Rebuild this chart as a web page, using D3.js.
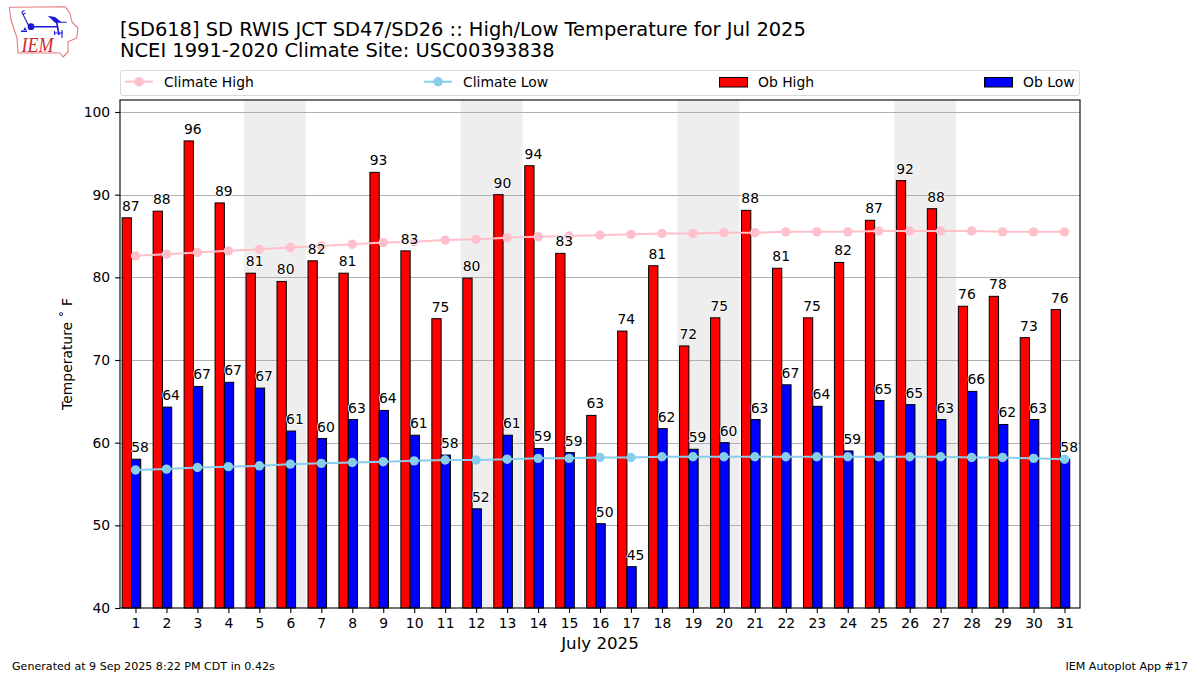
<!DOCTYPE html>
<html><head><meta charset="utf-8">
<script src="https://cdn.jsdelivr.net/npm/d3@7"></script>
<style>
html,body{margin:0;padding:0;background:#fff}
svg{display:block}
text{font-family:"DejaVu Sans",sans-serif;fill:#000}
</style></head><body>
<svg id="c" width="1200" height="675"></svg>
<script>
const days = d3.range(1, 32);
const obHigh = [87.2,88,96.5,89,80.5,79.5,82,80.5,92.7,83.2,75,79.9,90,93.5,82.9,63.3,73.5,81.4,71.7,75.1,88.1,81.1,75.1,81.8,86.9,91.7,88.3,76.5,77.7,72.7,76.1];
const obLow = [58,64.3,66.8,67.3,66.6,61.4,60.5,62.8,63.9,60.9,58.5,52,60.9,59.3,58.8,50.2,45,61.7,59.2,60,62.8,67,64.4,59,65.1,64.6,62.8,66.2,62.2,62.8,58];
const highLabels = [87,88,96,89,81,80,82,81,93,83,75,80,90,94,83,63,74,81,72,75,88,81,75,82,87,92,88,76,78,73,76];
const lowLabels = [58,64,67,67,67,61,60,63,64,61,58,52,61,59,59,50,45,62,59,60,63,67,64,59,65,65,63,66,62,63,58];
const climateHigh = [82.6,82.8,83,83.2,83.4,83.6,83.8,84,84.2,84.3,84.5,84.6,84.8,84.9,85,85.1,85.2,85.3,85.3,85.4,85.4,85.5,85.5,85.5,85.6,85.6,85.6,85.6,85.5,85.5,85.5];
const climateLow = [56.7,56.8,57,57.1,57.2,57.4,57.5,57.6,57.7,57.8,57.9,57.9,58,58.1,58.1,58.2,58.2,58.3,58.3,58.3,58.3,58.3,58.3,58.3,58.3,58.3,58.3,58.2,58.2,58.1,58];
const weekendStarts = [5,12,19,26];
const yTicks = [40,50,60,70,80,90,100];
const titleLines = ["[SD618] SD RWIS JCT SD47/SD26 :: High/Low Temperature for Jul 2025","NCEI 1991-2020 Climate Site: USC00393838"];
const legendLabels = ["Climate High","Climate Low","Ob High","Ob Low"];

const svg = d3.select("#c");
const L=120,R=1080,T=100,B=608;
const x = d3.scaleLinear().domain([0.5,31.5]).range([L,R]);
const y = d3.scaleLinear().domain([40,101.45]).range([B,T]);
const barW = 0.3;

// logo
const logo = svg.append("g").attr("transform","translate(5,2)");
logo.append("path").attr("fill","none").attr("stroke","#e27d80").attr("stroke-width",1.1).attr("stroke-linejoin","round")
 .attr("d","M4.3,5.3 L60,4.7 L65,11.3 L67,20 L73,26 L71.7,36 L63,39.7 L63,50 L58,55 L55,51 L13,51 L12,36 L6,18 Z");
logo.append("g").attr("stroke","#1a1ad6").attr("fill","none").attr("stroke-width",1.4).call(g=>{
 g.append("path").attr("d","M16.7,9.7 L23.3,23 M16.7,9.7 L19.5,8.5 M17.8,12.5 L20.5,11").attr("stroke-width",1.1);
 g.append("path").attr("d","M26,24.7 L53,24.7 M51.7,20 L54,33").attr("stroke-width",1.6);
 g.append("path").attr("d","M49,31 L58,31 M49.5,29 L49.5,33 M57,28 L57,36").attr("stroke-width",1.1);
});
logo.append("path").attr("fill","#1a1ad6").attr("d","M42.7,13.7 L50,15 L56,19.7 L61.7,19.7 L61.7,20.7 L50,20.7 Z");
logo.append("circle").attr("cx",26).attr("cy",24.7).attr("r",3.4).attr("fill","#1a1ad6");
logo.append("path").attr("fill","#1a1ad6").attr("d","M18.4,28 l1.6,-3 l1.6,3z M16,28.6 h6 v1.4 h-6z");
logo.append("text").attr("x",16.5).attr("y",49.5).attr("font-size",21).attr("textLength",32).attr("lengthAdjust","spacingAndGlyphs")
 .style("font-family","'Liberation Serif',serif").style("font-style","italic").style("fill","#d4262c").text("IEM");

// titles
svg.selectAll("text.title").data(titleLines).join("text").attr("class","title")
 .attr("x",120).attr("y",(d,i)=>35.5+i*21.5).attr("font-size",19.45).text(d=>d);

// legend
const lg = svg.append("g");
lg.append("rect").attr("x",120.5).attr("y",70.5).attr("width",959).attr("height",25).attr("rx",2.5).attr("fill","#fff").attr("stroke","#d9d9d9").attr("stroke-width",1);
const legendX = [125,424,719,984];
legendLabels.forEach((t,i)=>{
  const lx=legendX[i], ly=81.7;
  if(i<2){
    const c=i==0?"pink":"skyblue";
    lg.append("line").attr("x1",lx).attr("x2",lx+28).attr("y1",ly).attr("y2",ly).attr("stroke",c).attr("stroke-width",2);
    lg.append("circle").attr("cx",lx+14).attr("cy",ly).attr("r",4.7).attr("fill",c);
  } else {
    lg.append("rect").attr("x",lx+0.5).attr("y",77.5).attr("width",28).attr("height",9.5).attr("fill",i==2?"red":"blue").attr("stroke","#000").attr("stroke-width",1);
  }
  lg.append("text").attr("x",lx+39).attr("y",86.5).attr("font-size",13.9).text(t);
});

// plot
const plot = svg.append("g");
plot.selectAll("rect.we").data(weekendStarts).join("rect").attr("class","we")
 .attr("x",d=>x(d-0.5)).attr("width",d=>x(d+1.5)-x(d-0.5)).attr("y",T).attr("height",B-T).attr("fill","#eeeeee");
plot.selectAll("line.grid").data(yTicks.slice(1)).join("line").attr("class","grid")
 .attr("x1",L).attr("x2",R).attr("y1",d=>Math.round(y(d))+0.5).attr("y2",d=>Math.round(y(d))+0.5).attr("stroke","#b0b0b0").attr("stroke-width",1.1);

plot.selectAll("rect.hi").data(days).join("rect").attr("class","hi")
 .attr("x",d=>x(d-0.43)).attr("width",x(barW)-x(0)).attr("y",(d,i)=>y(obHigh[i])).attr("height",(d,i)=>B-y(obHigh[i]))
 .attr("fill","red").attr("stroke","#000").attr("stroke-width",1);
plot.selectAll("rect.lo").data(days).join("rect").attr("class","lo")
 .attr("x",d=>x(d-0.13)).attr("width",x(barW)-x(0)).attr("y",(d,i)=>y(obLow[i])).attr("height",(d,i)=>B-y(obLow[i]))
 .attr("fill","blue").attr("stroke","#000").attr("stroke-width",1);

function climate(vals,c){
  plot.append("path").datum(vals).attr("fill","none").attr("stroke",c).attr("stroke-width",2)
   .attr("d",d3.line().x((d,i)=>x(days[i])).y(d=>y(d)));
  plot.selectAll("circle.m"+c).data(vals).join("circle").attr("class","m"+c)
   .attr("cx",(d,i)=>x(days[i])).attr("cy",d=>y(d)).attr("r",4.7).attr("fill",c);
}
climate(climateHigh,"pink");
climate(climateLow,"skyblue");

function labels(vals,txt,off,cls){
  plot.selectAll("text."+cls).data(vals).join("text").attr("class",cls)
   .attr("x",(d,i)=>x(days[i]+off)).attr("y",d=>y(d)-7)
   .attr("text-anchor","middle").attr("font-size",13.9)
   .attr("stroke","#fff").attr("stroke-width",1.6).attr("paint-order","stroke").attr("stroke-linejoin","round")
   .text((d,i)=>txt[i]);
}
labels(obHigh,highLabels,-0.15,"lblHigh");
labels(obLow,lowLabels,0.15,"lblLow");

// frame
svg.append("rect").attr("x",L).attr("y",T).attr("width",R-L).attr("height",B-T).attr("fill","none").attr("stroke","#000").attr("stroke-width",1.1);

// axes
const ax = svg.append("g").attr("transform",`translate(0,${B})`)
 .call(d3.axisBottom(x).tickValues(days).tickFormat(d3.format("d")).tickSize(4.9).tickPadding(4.9));
const ay = svg.append("g").attr("transform",`translate(${L},0)`)
 .call(d3.axisLeft(y).tickValues(yTicks).tickFormat(d3.format("d")).tickSize(4.9).tickPadding(4.9));
[ax,ay].forEach(a=>{
  a.select(".domain").remove();
  a.selectAll("text").attr("font-size",13.9).style("font-family","'DejaVu Sans',sans-serif");
  a.selectAll("line").attr("stroke","#000").attr("stroke-width",1.1);
});
svg.append("text").attr("x",600).attr("y",649).attr("text-anchor","middle").attr("font-size",16.67).text("July 2025");
svg.append("text").attr("transform","translate(72,354) rotate(-90)").attr("text-anchor","middle").attr("font-size",13.9).text("Temperature \u02da F");

svg.append("text").attr("x",12).attr("y",670).attr("font-size",11.1).text("Generated at 9 Sep 2025 8:22 PM CDT in 0.42s");
svg.append("text").attr("x",1188).attr("y",670).attr("text-anchor","end").attr("font-size",11.1).text("IEM Autoplot App #17");
</script>
</body></html>
